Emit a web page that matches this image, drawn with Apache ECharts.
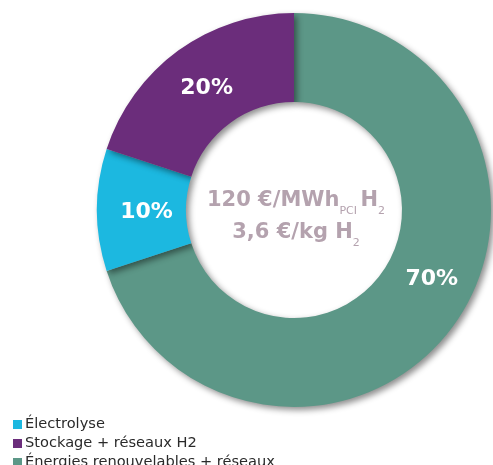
<!DOCTYPE html>
<html>
<head>
<meta charset="utf-8">
<script src="https://cdn.jsdelivr.net/npm/echarts@6/dist/echarts.min.js"></script>
<style>
  html, body { margin: 0; padding: 0; background: #fff; }
  #chart { width: 493px; height: 465px; }
</style>
</head>
<body>
<div id="chart"></div>
<script>
// répartition du coût de l'hydrogène
const categories = ['Énergies renouvelables + réseaux', 'Électrolyse', 'Stockage + réseaux H2']
const shares = [70, 10, 20]
const colors = ['#5c9787', '#1cb8e0', '#6b2d7b']
const legendOrder = ['Électrolyse', 'Stockage + réseaux H2', 'Énergies renouvelables + réseaux']
// décalage des étiquettes par rapport au milieu de la part
const labelOffsets = [[12, -22], [8, 2], [4, 4]]

const chart = echarts.init(document.getElementById('chart'))

const data = categories.map((name, i) => ({
  name,
  value: shares[i],
  itemStyle: { color: colors[i] },
  label: { offset: labelOffsets[i] },
}))

const option = {
  animation: false,
  legend: {
    data: legendOrder,
    orient: 'vertical',
    left: 8,
    top: 412,
    height: 90,
    icon: 'rect',
    itemWidth: 9,
    itemHeight: 9,
    itemGap: 4,
    selectedMode: false,
    textStyle: {
      color: '#2a2a2a',
      fontSize: 14.6,
      fontFamily: 'DejaVu Sans',
      padding: [0, 0, 0, -2],
    },
  },
  graphic: [
    {
      type: 'text',
      x: 296,
      y: 217,
      style: {
        text: '{m|120 €/MWh}{s|PCI }{m|H}{s|2}\n{m|3,6 €/kg H}{s|2}',
        align: 'center',
        verticalAlign: 'middle',
        fill: '#b4a2ae',
        rich: {
          m: {
            fontSize: 21,
            fontWeight: 'bold',
            fontFamily: 'DejaVu Sans',
            fill: '#b4a2ae',
            lineHeight: 32,
            verticalAlign: 'middle',
          },
          s: {
            fontSize: 11,
            fontFamily: 'DejaVu Sans',
            fill: '#b4a2ae',
            lineHeight: 32,
            verticalAlign: 'bottom',
          },
        },
      },
    },
  ],
  series: [
    {
      type: 'pie',
      center: [294, 210],
      radius: [108, 197],
      startAngle: 90,
      clockwise: true,
      silent: true,
      itemStyle: {
        shadowBlur: 6,
        shadowOffsetX: 3,
        shadowOffsetY: 3,
        shadowColor: 'rgba(0,0,0,0.45)',
      },
      label: {
        show: true,
        position: 'inside',
        formatter: '{c}%',
        color: '#fff',
        fontSize: 22,
        fontWeight: 'bold',
        fontFamily: 'DejaVu Sans',
      },
      labelLine: { show: false },
      data,
    },
  ],
}

chart.setOption(option)
</script>
</body>
</html>
